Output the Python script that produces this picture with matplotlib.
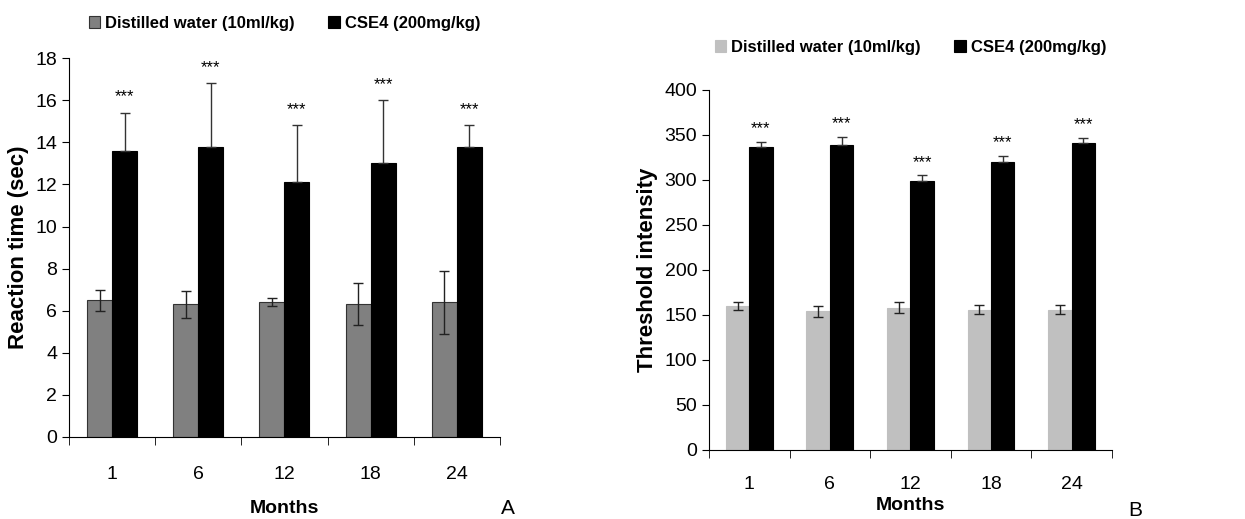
import matplotlib
matplotlib.use("Agg")
import matplotlib.pyplot as plt
import numpy as np

months = ["1", "6", "12", "18", "24"]
series_names = ["Distilled water (10ml/kg)", "CSE4 (200mg/kg)"]

# Panel A: reaction time (sec)
a_water = [6.5, 6.3, 6.4, 6.3, 6.4]
a_water_err = [0.5, 0.65, 0.2, 1.0, 1.5]
a_cse4 = [13.6, 13.8, 12.1, 13.0, 13.8]
a_cse4_err = [1.8, 3.0, 2.7, 3.0, 1.0]

# Panel B: threshold intensity
b_water = [160, 154, 158, 156, 156]
b_water_err = [4, 6, 6, 5, 5]
b_cse4 = [336, 339, 299, 320, 341]
b_cse4_err = [6, 9, 6, 7, 6]

sig_label = "***"

NARROW = ["Liberation Sans Narrow", "Liberation Sans", "DejaVu Sans"]
WIDE = ["Liberation Sans", "DejaVu Sans"]

fig = plt.figure(figsize=(12.45, 5.19), dpi=100)


def panel(rect, water, werr, cse, cerr, ylim, yticks, ylabel, ylabel_x,
          water_color, water_edge, star_off, legend_y, xlabel_y, xpad,
          panel_letter, letter_pos):
    ax = fig.add_axes(rect)
    x = np.arange(len(months))
    w = 0.29
    ax.bar(x - w / 2, water, w, color=water_color, edgecolor=water_edge,
           linewidth=0.8, label=series_names[0], zorder=2)
    ax.bar(x + w / 2, cse, w, color="black", edgecolor="black",
           linewidth=0.8, label=series_names[1], zorder=2)
    ax.errorbar(x - w / 2, water, yerr=werr, fmt="none", ecolor="#222222",
                elinewidth=1.0, capsize=3.5, capthick=1.0, zorder=3)
    ax.errorbar(x + w / 2, cse, yerr=[np.zeros(len(cse)), cerr], fmt="none",
                ecolor="#333333", elinewidth=1.0, capsize=3.5, capthick=1.0,
                zorder=3)
    for xi, v, e in zip(x + w / 2, cse, cerr):
        ax.text(xi, v + e + star_off, sig_label, ha="center", va="bottom",
                fontsize=12, family=WIDE)
    ax.set_xlim(-0.5, len(months) - 0.5)
    ax.set_ylim(*ylim)
    ax.set_yticks(yticks)
    ax.set_xticks(x)
    ax.set_xticklabels(months, family=NARROW, fontsize=14)
    ax.set_xticks(np.arange(-0.5, len(months)), minor=True)
    ax.tick_params(axis="x", which="major", length=0, pad=xpad)
    ax.tick_params(axis="x", which="minor", length=6, direction="out")
    ax.tick_params(axis="y", length=5, direction="out", labelsize=14)
    for lab in ax.get_yticklabels():
        lab.set_family(NARROW)
    ax.spines["top"].set_visible(False)
    ax.spines["right"].set_visible(False)
    ax.set_ylabel(ylabel, family=WIDE, fontweight="bold", fontsize=16)
    ax.yaxis.set_label_coords(ylabel_x, 0.5)
    ax.yaxis.label.set_va("center")
    ax.text(0.5, xlabel_y, "Months", transform=ax.transAxes, ha="center",
            va="center", family=NARROW, fontweight="bold", fontsize=14)
    fig.text(letter_pos[0], letter_pos[1], panel_letter, ha="left",
             va="center", family=WIDE, fontsize=15)
    ax.legend(ncol=2, loc="center", bbox_to_anchor=(0.5, legend_y),
              frameon=False, handlelength=0.7, handleheight=0.7,
              handletextpad=0.3, columnspacing=2.0,
              prop={"family": NARROW, "weight": "bold", "size": 12})
    return ax


panel([0.0554, 0.158, 0.3462, 0.730], a_water, a_water_err, a_cse4,
      a_cse4_err, (0, 18), np.arange(0, 19, 2), "Reaction time (sec)",
      -0.118, "#808080", "#333333", 0.4, 1.092, -0.19, 21, "A",
      (0.402, 0.021))

panel([0.5695, 0.133, 0.3235, 0.694], b_water, b_water_err, b_cse4,
      b_cse4_err, (0, 400), np.arange(0, 401, 50), "Threshold intensity",
      -0.154, "#c0c0c0", "#c0c0c0", 6, 1.117, -0.155, 19, "B",
      (0.906, 0.017))

fig.savefig("out.png", dpi=100)
